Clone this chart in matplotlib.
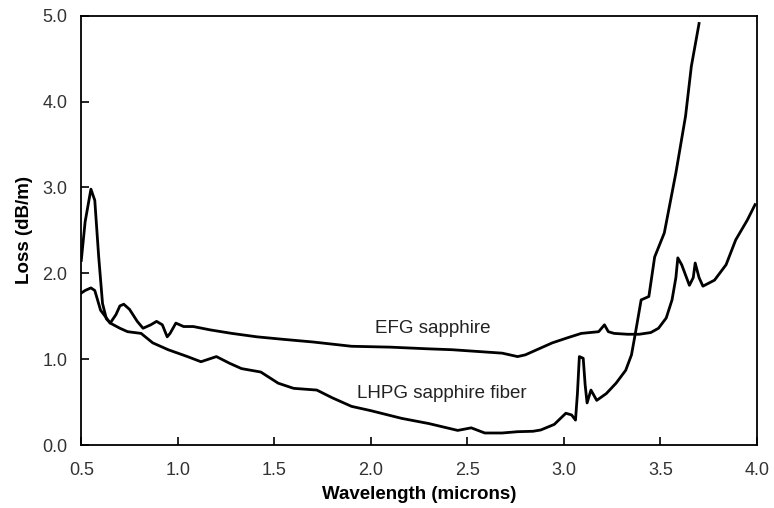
import numpy as np
import matplotlib.pyplot as plt

plt.rcParams['font.family'] = ['Liberation Sans', 'DejaVu Sans']

# EFG sapphire (upper curve in the middle of the band)
efg_wl = [0.50, 0.52, 0.55, 0.57, 0.59, 0.61, 0.63, 0.65, 0.68, 0.70, 0.72, 0.75, 0.79,
          0.82, 0.86, 0.89, 0.92, 0.945, 0.96, 0.99, 1.03, 1.08, 1.17, 1.28, 1.41,
          1.55, 1.70, 1.90, 2.10, 2.30, 2.42, 2.55, 2.68, 2.76, 2.80, 2.88, 2.94,
          3.02, 3.09, 3.18, 3.21, 3.23, 3.26, 3.33, 3.39, 3.45, 3.49, 3.53, 3.56,
          3.58, 3.59, 3.61, 3.65, 3.67, 3.68, 3.70, 3.72, 3.78, 3.84, 3.89, 3.95, 3.99]
efg_loss = [2.15, 2.60, 2.98, 2.85, 2.20, 1.65, 1.47, 1.42, 1.52, 1.62, 1.64, 1.58,
            1.44, 1.36, 1.40, 1.44, 1.40, 1.26, 1.30, 1.42, 1.38, 1.38, 1.34, 1.30,
            1.26, 1.23, 1.20, 1.15, 1.14, 1.12, 1.11, 1.09, 1.07, 1.03, 1.05, 1.13,
            1.19, 1.25, 1.30, 1.32, 1.40, 1.32, 1.30, 1.29, 1.29, 1.31, 1.36, 1.48,
            1.69, 1.95, 2.18, 2.10, 1.86, 1.95, 2.12, 1.95, 1.85, 1.92, 2.10, 2.39,
            2.62, 2.80]

# LHPG sapphire fiber (lower curve in the middle, steep rise past 3.4 microns)
lhpg_wl = [0.50, 0.52, 0.55, 0.57, 0.60, 0.65, 0.70, 0.74, 0.81, 0.87, 0.95, 1.05,
           1.12, 1.20, 1.27, 1.33, 1.43, 1.52, 1.60, 1.72, 1.80, 1.90, 2.00, 2.16,
           2.30, 2.45, 2.52, 2.59, 2.68, 2.76, 2.84, 2.88, 2.95, 3.01, 3.04, 3.06,
           3.07, 3.08, 3.10, 3.11, 3.12, 3.14, 3.17, 3.22, 3.27, 3.32, 3.35, 3.37,
           3.40, 3.44, 3.47, 3.52, 3.58, 3.63, 3.66, 3.70]
lhpg_loss = [1.77, 1.80, 1.83, 1.80, 1.57, 1.42, 1.36, 1.32, 1.30, 1.19, 1.11, 1.03,
             0.97, 1.03, 0.95, 0.89, 0.85, 0.72, 0.66, 0.64, 0.55, 0.45, 0.40, 0.31,
             0.25, 0.17, 0.20, 0.14, 0.14, 0.155, 0.16, 0.175, 0.24, 0.37, 0.35, 0.29,
             0.60, 1.03, 1.01, 0.70, 0.49, 0.64, 0.52, 0.60, 0.72, 0.87, 1.05, 1.30,
             1.69, 1.73, 2.19, 2.47, 3.17, 3.83, 4.41, 4.91]

x_ticks = np.arange(0.5, 4.01, 0.5)
y_ticks = np.arange(0, 5.01, 1.0)

fig = plt.figure(figsize=(7.74, 5.08), dpi=100)
ax = fig.add_axes([0.105, 0.124, 0.873, 0.845])

ax.plot(efg_wl, efg_loss, color='black', lw=2.0)
ax.plot(lhpg_wl, lhpg_loss, color='black', lw=2.0)

ax.text(2.32, 1.36, 'EFG sapphire', fontsize=13.5, ha='center', va='center', color='#222222')
ax.text(2.37, 0.60, 'LHPG sapphire fiber', fontsize=13.5, ha='center', va='center', color='#222222')

ax.set_xlim(0.5, 4.0)
ax.set_ylim(0.0, 5.0)
ax.set_xticks(x_ticks)
ax.set_yticks(y_ticks)
ax.set_xticklabels(['%.1f' % v for v in x_ticks])
ax.set_yticklabels(['%.1f' % v for v in y_ticks])
ax.tick_params(direction='in', length=6, width=1.2, labelsize=13, labelcolor='#333333')
ax.tick_params(axis='x', pad=12)
ax.tick_params(axis='y', pad=10)
for s in ax.spines.values():
    s.set_linewidth(1.3)

ax.set_xlabel('Wavelength (microns)', fontsize=13.5, fontweight='bold', labelpad=5)
ax.set_ylabel('Loss (dB/m)', fontsize=13.5, fontweight='bold', labelpad=7)

fig.savefig('out.png', dpi=100)
